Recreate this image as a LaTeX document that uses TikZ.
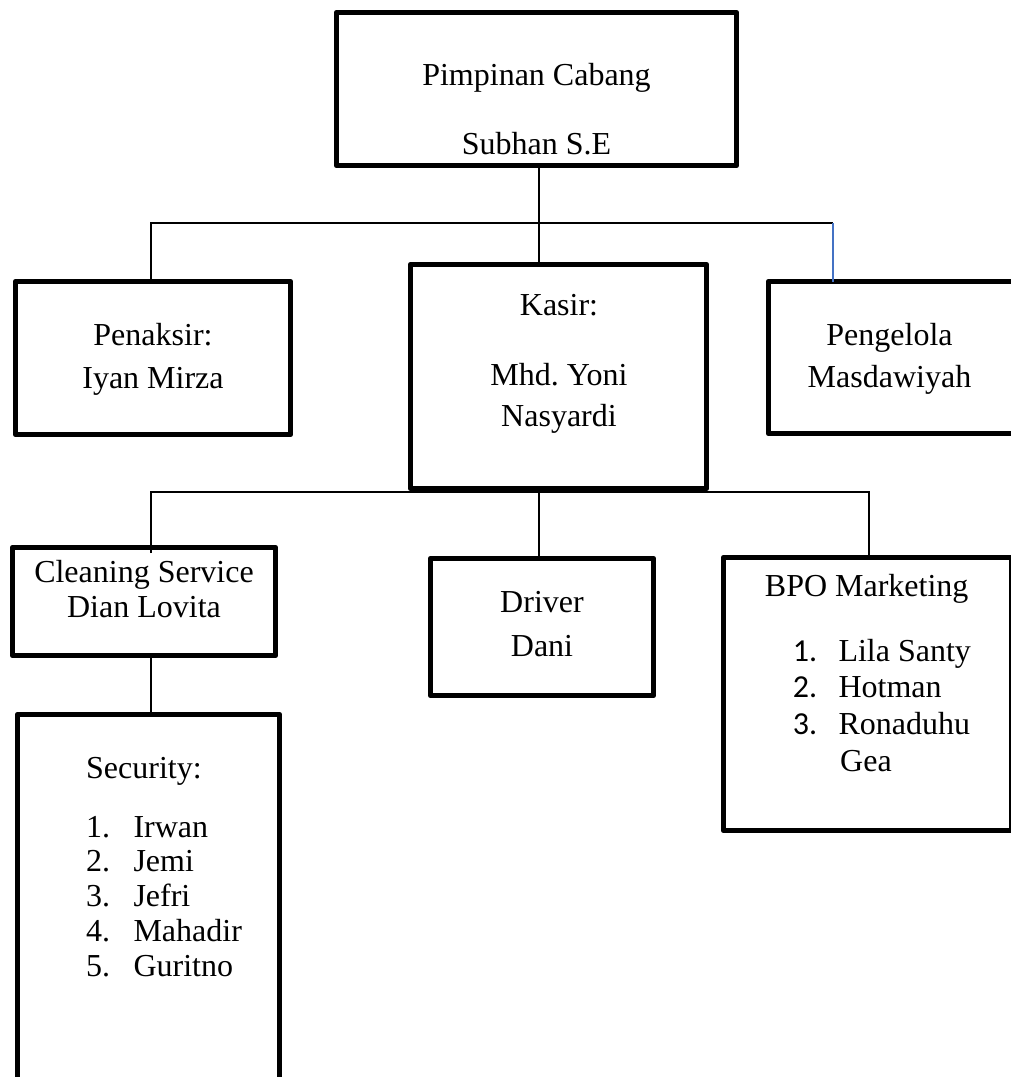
\documentclass[tikz,border=0pt]{standalone}
\usepackage{fontspec}
\setmainfont{Liberation Serif}
\newfontfamily\calibfont{Carlito}
\frenchspacing
\begin{document}
\begin{tikzpicture}[x=1pt,y=-1pt,
  box/.style={draw=black, line width=5.5pt, line join=round, rectangle, inner sep=0pt, outer sep=0pt},
  txt/.style={font=\fontsize{32}{36}\selectfont, inner sep=0pt, anchor=base},
  ltxt/.style={font=\fontsize{32}{36}\selectfont, inner sep=0pt, anchor=base west},
  link/.style={draw=black, line width=1.6pt},
  bluelink/.style={draw={rgb,255:red,68;green,114;blue,196}, line width=1.6pt}]
\useasboundingbox (0,0) rectangle (1011,1077);
\fill[white] (0,0) rectangle (1011,1077);
\clip (0,0) rectangle (1011,1077);

% boxes
\node[box, minimum width=400pt, minimum height=153pt] (top) at (536.5,89) {};
\node[box, minimum width=275pt, minimum height=153pt] (penaksir) at (153,358) {};
\node[box, minimum width=296pt, minimum height=224pt] (kasir) at (558.5,376.5) {};
\node[box, minimum width=250pt, minimum height=152pt] (pengelola) at (893.5,357.5) {};
\node[box, minimum width=288.5pt, minimum height=273pt] (bpo) at (867.75,694) {};
\node[box, minimum width=263pt, minimum height=108pt] (cleaning) at (144,601.5) {};
\node[box, minimum width=223pt, minimum height=137pt] (driver) at (542,627) {};
\node[box, minimum width=262pt, minimum height=375.5pt] (security) at (148.5,902.25) {};

% junction coordinates
\coordinate (j1) at (539,223);
\coordinate (hl) at (151,223);
\coordinate (hr) at (833,223);
\coordinate (j2) at (539,492);
\coordinate (ll) at (151,492);
\coordinate (lr) at (869,492);
\coordinate (cin) at (151,553);

% connectors
\draw[link] (top.south -| j1) -- (kasir.north -| j1);
\draw[link] (penaksir.north -| hl) -- (hl) -- (hr);
\draw[bluelink] (hr) -- (pengelola.north -| hr);
\draw[link] (cin) -- (ll) -- (lr) -- (bpo.north -| lr);
\draw[link] (kasir.south -| j2) -- (driver.north -| j2);
\draw[link] (cleaning.south -| ll) -- (security.north -| ll);

% texts
\node[txt] (t1) at (536.5,85) {Pimpinan Cabang};
\node[txt] (t2) at (536.5,154) {Subhan S.E};
\node[txt] (t3) at (153,345.5) {Penaksir:};
\node[txt] (t4) at (153,388) {Iyan Mirza};
\node[txt] (t5) at (559,315) {Kasir:};
\node[txt] (t6) at (559,385) {Mhd. Yoni};
\node[txt] (t7) at (559,426.5) {Nasyardi};
\node[txt] (t8) at (889.5,345) {Pengelola};
\node[txt] (t9) at (889.5,387.5) {Masdawiyah};
\node[txt] (t10) at (144,582) {Cleaning Service};
\node[txt] (t11) at (144,617.5) {Dian Lovita};
\node[txt] (t12) at (542,612.5) {Driver};
\node[txt] (t13) at (542,656) {Dani};
\node[txt] (t14) at (866.7,596.5) {BPO Marketing};
\node[ltxt, font=\fontsize{32}{36}\calibfont] (n1) at (792.7,661) {1.};
\node[ltxt] (b1) at (838.3,661) {Lila Santy};
\node[ltxt, font=\fontsize{32}{36}\calibfont] (n2) at (792.7,697.7) {2.};
\node[ltxt] (b2) at (838.3,697.7) {Hotman};
\node[ltxt, font=\fontsize{32}{36}\calibfont] (n3) at (792.7,734.3) {3.};
\node[ltxt] (b3) at (838.3,734.3) {Ronaduhu};
\node[ltxt] (b4) at (840,771.7) {Gea};
\node[ltxt] (s0) at (86,778) {Security:};
\node[ltxt] (sn1) at (86,837.7) {1.};
\node[ltxt] (s1) at (133.3,837.7) {Irwan};
\node[ltxt] (sn2) at (86,871.7) {2.};
\node[ltxt] (s2) at (133.3,871.7) {Jemi};
\node[ltxt] (sn3) at (86,906.7) {3.};
\node[ltxt] (s3) at (133.3,906.7) {Jefri};
\node[ltxt] (sn4) at (86,941.7) {4.};
\node[ltxt] (s4) at (133.3,941.7) {Mahadir};
\node[ltxt] (sn5) at (86,976) {5.};
\node[ltxt] (s5) at (133.3,976) {Guritno};
\end{tikzpicture}
\end{document}
